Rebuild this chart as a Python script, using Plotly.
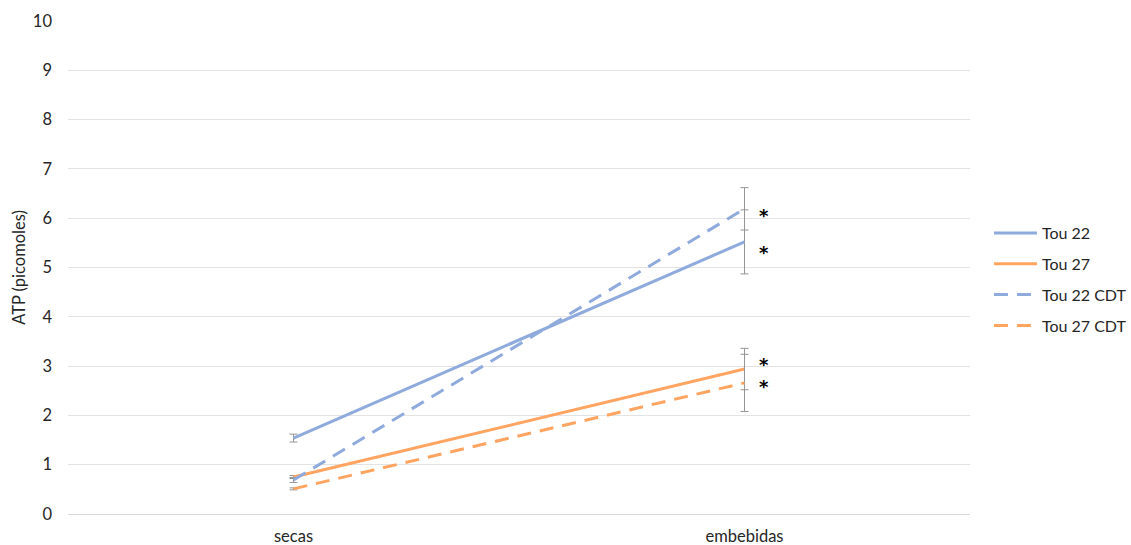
import plotly.graph_objects as go

categories = ["secas", "embebidas"]
series_names = ["Tou 22", "Tou 27", "Tou 22 CDT", "Tou 27 CDT"]
tou22 = [1.54, 5.52]
tou27 = [0.75, 2.94]
tou22_cdt = [0.69, 6.19]
tou27_cdt = [0.51, 2.66]
err_tou22 = [0.08, 0.65]
err_tou27 = [0.03, 0.42]
err_tou22_cdt = [0.05, 0.43]
err_tou27_cdt = [0.02, 0.58]
y_ticks = [0, 1, 2, 3, 4, 5, 6, 7, 8, 9, 10]

BLUE = "#8FAADC"
ORANGE = "#FFA461"
FONT = "Lato, Liberation Sans, Arial, sans-serif"
FS = 16.5

fig = go.Figure()
specs = [
    (series_names[0], tou22, err_tou22, BLUE, "solid", -11),
    (series_names[1], tou27, err_tou27, ORANGE, "solid", 5),
    (series_names[2], tou22_cdt, err_tou22_cdt, BLUE, "dash", -7),
    (series_names[3], tou27_cdt, err_tou27_cdt, ORANGE, "dash", -4),
]
for name, vals, errs, color, dash, _ in specs:
    fig.add_trace(go.Scatter(
        x=categories, y=vals, name=name, mode="lines",
        legendgroup=name,
        line=dict(color=color, width=3, dash=dash if dash == "solid" else "14px,9px"),
        error_y=dict(type="data", array=errs, visible=True, color="#959595",
                     thickness=1, width=4),
    ))

# significance asterisks next to the "embebidas" points
for name, vals, errs, color, dash, dy in specs:
    fig.add_annotation(x=categories[1], y=vals[1], text="<b>*</b>", showarrow=False,
                       xshift=19, yshift=dy,
                       font=dict(size=18, color="#000", family="DejaVu Sans"))

fig.update_layout(
    width=1131, height=545,
    margin=dict(l=68, r=161, t=21, b=31),
    plot_bgcolor="white", paper_bgcolor="white",
    font=dict(family=FONT, size=FS, color="#262626"),
    showlegend=True,
    legend=dict(xref="container", yref="container", x=0.8744, y=0.487,
                xanchor="left", yanchor="middle",
                font=dict(size=16, color="#262626"), tracegroupgap=7,
                itemwidth=43, bgcolor="rgba(0,0,0,0)"),
    xaxis=dict(type="category", range=[-0.5, 1.5], showgrid=False, showline=False,
               ticks="", tickfont=dict(size=FS), zeroline=False, automargin=False,
               ticklabelstandoff=10),
    yaxis=dict(range=[0, 10], tickvals=y_ticks, showgrid=True, gridcolor="#E3E3E3",
               gridwidth=1, zeroline=True, zerolinecolor="#D9D9D9", zerolinewidth=1,
               ticks="", ticklabelstandoff=15, automargin=False,
               title=dict(text="ATP (picomoles)", font=dict(size=FS), standoff=3)),
)

fig.write_html("out.html", config={"displayModeBar": False},
               post_script="document.body.style.margin='0';document.body.style.overflow='hidden';")
